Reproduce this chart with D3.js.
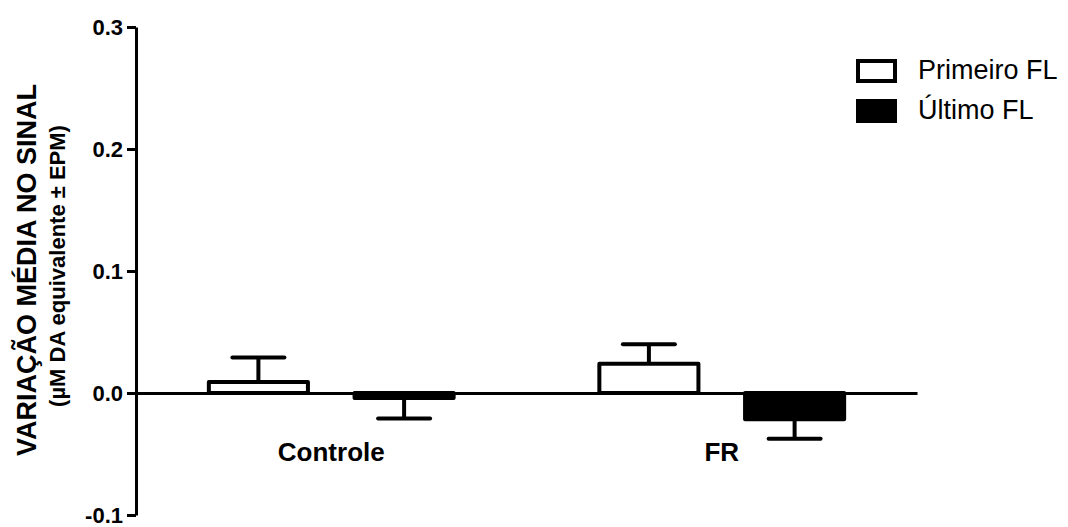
<!DOCTYPE html>
<html lang="pt">
  <head>
    <meta charset="UTF-8">
    <title>Variação média no sinal</title>
    <style>
      body { margin: 0; background: #fff; }
      svg { display: block; font-family: "Liberation Sans", Arial, sans-serif; }
      .axis path, .axis line { stroke: #000; stroke-width: 3; }
      .axis text { fill: #000; font-weight: bold; font-family: "Liberation Sans", Arial, sans-serif; }
    </style>
    <script src="https://d3js.org/d3.v7.min.js"></script>
  </head>
  <body>
    <script>
      var categories = ["Controle", "FR"];
      var series = ["Primeiro FL", "Último FL"];
      var primeiroMean = [0.009, 0.024];
      var primeiroSem = [0.020, 0.016];
      var ultimoMean = [-0.004, -0.0215];
      var ultimoSem = [0.017, 0.016];
      var yTicks = [-0.1, 0.0, 0.1, 0.2, 0.3];

      var width = 1068, height = 527;

      var rows = [];
      categories.forEach(function (c, i) {
        rows.push({ cat: c, s: series[0], mean: primeiroMean[i], sem: primeiroSem[i] });
        rows.push({ cat: c, s: series[1], mean: ultimoMean[i], sem: ultimoSem[i] });
      });

      var svg = d3.select("body").append("svg")
        .attr("width", width)
        .attr("height", height);

      var y = d3.scaleLinear().domain([-0.1, 0.3]).range([515, 27]);
      var x0 = d3.scaleBand().domain(categories).range([136, 917]).padding(0);
      var x1 = d3.scaleBand().domain(series).range([0, x0.bandwidth()])
        .paddingInner(0.32).paddingOuter(0.5);
      var fill = d3.scaleOrdinal().domain(series).range(["#fff", "#000"]);

      // bars
      svg.append("g").selectAll("rect").data(rows).enter().append("rect")
        .attr("x", function (d) { return x0(d.cat) + x1(d.s); })
        .attr("y", function (d) { return y(Math.max(0, d.mean)); })
        .attr("width", x1.bandwidth())
        .attr("height", function (d) { return Math.abs(y(d.mean) - y(0)); })
        .attr("fill", function (d) { return fill(d.s); })
        .attr("stroke", "#000")
        .attr("stroke-width", 4)
        .attr("stroke-linejoin", "round");

      // one-sided error bars
      var err = svg.append("g").attr("stroke", "#000").attr("stroke-width", 4)
        .selectAll("g").data(rows).enter().append("g");
      function tip(d) { return d.mean >= 0 ? d.mean + d.sem : d.mean - d.sem; }
      function cx(d) { return x0(d.cat) + x1(d.s) + x1.bandwidth() / 2; }
      err.append("line")
        .attr("x1", cx).attr("x2", cx)
        .attr("y1", function (d) { return y(d.mean); })
        .attr("y2", function (d) { return y(tip(d)); });
      err.append("line")
        .attr("x1", function (d) { return cx(d) - 26; })
        .attr("x2", function (d) { return cx(d) + 26; })
        .attr("y1", function (d) { return y(tip(d)); })
        .attr("y2", function (d) { return y(tip(d)); })
        .attr("stroke-linecap", "round");

      // x baseline at zero with category labels
      var xAxis = d3.axisBottom(x0).tickSize(0).tickPadding(50);
      svg.append("g").attr("class", "axis")
        .attr("transform", "translate(0," + y(0) + ")")
        .call(xAxis)
        .selectAll("text").style("font-size", "26px");

      // y axis
      var yAxis = d3.axisLeft(y).tickValues(yTicks)
        .tickFormat(function (d) { return d3.format(".1f")(d).replace("−", "-"); })
        .tickSize(9).tickSizeOuter(0).tickPadding(4);
      svg.append("g").attr("class", "axis")
        .attr("transform", "translate(136,0)")
        .call(yAxis)
        .selectAll("text").style("font-size", "22px");

      // y titles
      svg.append("text")
        .attr("transform", "translate(36,270) rotate(-90)")
        .attr("text-anchor", "middle")
        .style("font-size", "27px").style("font-weight", "bold")
        .text("VARIAÇÃO MÉDIA NO SINAL");
      svg.append("text")
        .attr("transform", "translate(65,266) rotate(-90)")
        .attr("text-anchor", "middle")
        .style("font-size", "22px").style("font-weight", "bold")
        .text("(µM DA equivalente ± EPM)");

      // legend
      var leg = svg.append("g").selectAll("g").data(series).enter().append("g")
        .attr("transform", function (d, i) { return "translate(858," + (61 + i * 40) + ")"; });
      leg.append("rect")
        .attr("width", 37).attr("height", 20)
        .attr("fill", function (d) { return fill(d); })
        .attr("stroke", "#000").attr("stroke-width", 4);
      leg.append("text")
        .attr("x", 60).attr("y", 18)
        .style("font-size", "27px")
        .text(function (d) { return d; });
    </script>
  </body>
</html>
